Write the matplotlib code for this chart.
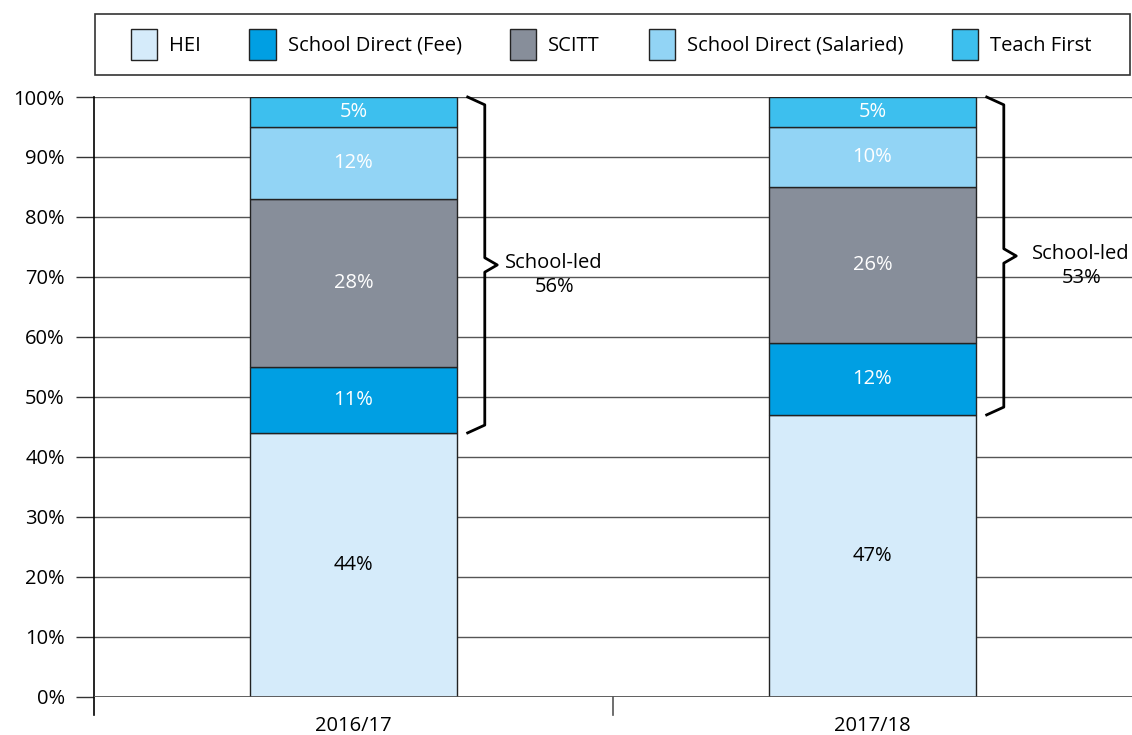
import matplotlib.pyplot as plt
from matplotlib.patches import Rectangle
import numpy as np

plt.rcParams['font.family'] = ['Open Sans', 'DejaVu Sans']

years = ['2016/17', '2017/18']
routes = ['HEI', 'School Direct (Fee)', 'SCITT', 'School Direct (Salaried)', 'Teach First']
hei = [44, 47]
sd_fee = [11, 12]
scitt = [28, 26]
sd_sal = [12, 10]
teach_first = [5, 5]
school_led = [56, 53]

colors = ['#d5ebfa', '#009fe3', '#878e9a', '#92d4f5', '#3dbfee']
text_colors = ['black', 'white', 'white', 'white', 'white']
series = [hei, sd_fee, scitt, sd_sal, teach_first]

FS = 14.5

fig = plt.figure(figsize=(11.32, 7.35), dpi=100)
ax = fig.add_axes([0.083, 0.052, 0.917, 0.816])

x = np.arange(len(years))
bottom = np.zeros(len(years))
for vals, col, tc, name in zip(series, colors, text_colors, routes):
    vals = np.array(vals, dtype=float)
    ax.bar(x, vals, 0.4, bottom=bottom, color=col, edgecolor='#222222',
           linewidth=1, label=name, zorder=3)
    for xi, b, v in zip(x, bottom, vals):
        ax.text(xi, b + v / 2, f'{int(v)}%', ha='center', va='center',
                color=tc, fontsize=FS, zorder=4)
    bottom += vals

# braces for school-led routes
offsets = [0.005, 0.02]
for xi, h, s, off in zip(x, hei, school_led, offsets):
    x0 = xi + 0.22
    x1 = xi + 0.253
    xt = xi + 0.277
    mid = (100 + h) / 2
    ys = [100, 98.7, mid + 1.2, mid, mid - 1.2, h + 1.3, h]
    xs = [x0, x1, x1, xt, x1, x1, x0]
    ax.plot(xs, ys, color='black', linewidth=2, zorder=5, clip_on=False)
    ax.text(xt + off + 0.01, mid + 0.3, 'School-led', ha='left', va='center', fontsize=FS)
    ax.text(xt + off + 0.105, mid - 3.6, f'{s}%', ha='center', va='center', fontsize=FS)

ax.set_xlim(-0.5, 1.5)
ax.set_ylim(0, 100)
ax.set_yticks(np.arange(0, 101, 10))
ax.set_yticklabels([f'{v}%' for v in range(0, 101, 10)], fontsize=FS)
ax.set_xticks(x)
ax.set_xticklabels(years, fontsize=FS)
ax.tick_params(axis='x', length=0, pad=14)
ax.tick_params(axis='y', length=13, color='#333333', width=1, pad=8)
ax.yaxis.grid(True, color='#555555', linewidth=1, zorder=0)
for sp in ['top', 'right', 'bottom', 'left']:
    ax.spines[sp].set_visible(False)

# axis lines with tick marks extending below the baseline
ax.plot([-0.5, -0.5], [100, -3], color='black', linewidth=1.2, clip_on=False, zorder=6)
ax.plot([0.5, 0.5], [0, -3], color='#555555', linewidth=1.2, clip_on=False, zorder=6)
ax.plot([-0.5, 1.5], [0, 0], color='#555555', linewidth=2, zorder=6)

# legend box
fig.patches.append(Rectangle((0.084, 0.898), 0.914, 0.083, transform=fig.transFigure,
                             fill=False, edgecolor='#333333', linewidth=1.2))
leg = fig.legend(loc='center', bbox_to_anchor=(0.105, 0.898, 0.87, 0.083),
                 mode='expand', ncol=5, fontsize=FS, frameon=False,
                 handlelength=1.3, handleheight=2.0,
                 borderpad=0.6, columnspacing=1.2, handletextpad=0.6,
                 borderaxespad=0)

fig.savefig('out.png', dpi=100)
